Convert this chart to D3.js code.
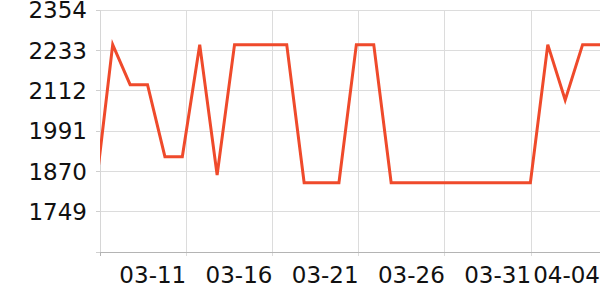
<!DOCTYPE html>
<html>
<head>
<meta charset="utf-8">
<script src="https://cdn.jsdelivr.net/npm/d3@7"></script>
<style>
  html, body { margin: 0; padding: 0; background: #fff; }
  svg { display: block; font-family: "DejaVu Sans", sans-serif; }
</style>
</head>
<body>
<svg id="chart" width="600" height="300"></svg>
<script>
// ---- data ----
const dates = ["03-06","03-07","03-08","03-09","03-10","03-11","03-12","03-13","03-14","03-15",
               "03-16","03-17","03-18","03-19","03-20","03-21","03-22","03-23","03-24","03-25",
               "03-26","03-27","03-28","03-29","03-30","03-31","04-01","04-02","04-03","04-04"];
const values = [1805, 2250, 2130, 2130, 1914, 1914, 2250, 1859, 2250, 2250,
                2250, 2250, 1836, 1836, 1836, 2250, 2250, 1836, 1836, 1836,
                1836, 1836, 1836, 1836, 1836, 1836, 2250, 2084, 2250, 2250];
const xTickLabels = ["03-11","03-16","03-21","03-26","03-31","04-04"];
const yTicks = [1628, 1749, 1870, 1991, 2112, 2233, 2354];
const yLabels = [1749, 1870, 1991, 2112, 2233, 2354];

// ---- layout ----
const W = 600, H = 300;
const m = { left: 100, right: 0, top: 10, bottom: 48 };
const iw = W - m.left - m.right, ih = H - m.top - m.bottom;

const svg = d3.select("#chart");
const g = svg.append("g").attr("transform", `translate(${m.left},${m.top})`);

const xAxisScale = d3.scalePoint().domain(dates).range([0, iw]);
// line samples drift slightly against the date grid
const xLine = d3.scaleLinear().domain([0, dates.length - 1]).range([-4.7, iw]);
const y = d3.scaleLinear().domain([1628, 2354]).range([ih, 0]);

// horizontal grid
g.append("g").selectAll("line").data(yTicks.slice(1)).join("line")
  .attr("x1", 0).attr("x2", iw)
  .attr("y1", d => y(d)).attr("y2", d => y(d))
  .attr("stroke", "#dcdcdc").attr("stroke-width", 1).attr("shape-rendering", "crispEdges");

// vertical grid
g.append("g").selectAll("line").data(xTickLabels).join("line")
  .attr("x1", d => xAxisScale(d)).attr("x2", d => xAxisScale(d))
  .attr("y1", 0).attr("y2", ih + 4)
  .attr("stroke", "#dcdcdc").attr("stroke-width", 1).attr("shape-rendering", "crispEdges");

// y axis line + ticks
g.append("line").attr("x1", 0).attr("x2", 0).attr("y1", 0).attr("y2", ih)
  .attr("stroke", "#d6d6d6").attr("shape-rendering", "crispEdges");
g.append("g").selectAll("line").data(yTicks).join("line")
  .attr("x1", -4).attr("x2", 0).attr("y1", d => y(d)).attr("y2", d => y(d))
  .attr("stroke", "#cfcfcf").attr("shape-rendering", "crispEdges");

// y labels
g.append("g").selectAll("text").data(yLabels).join("text")
  .attr("x", -13).attr("y", d => y(d)).attr("dy", "0.36em")
  .attr("text-anchor", "end").attr("font-size", 23).attr("fill", "#111")
  .text(d => d);

// x axis line
g.append("line").attr("x1", 0).attr("x2", iw).attr("y1", ih).attr("y2", ih)
  .attr("stroke", "#b4b4b4").attr("shape-rendering", "crispEdges");
g.append("line").attr("x1", 0).attr("x2", 0).attr("y1", ih).attr("y2", ih + 4)
  .attr("stroke", "#b4b4b4").attr("shape-rendering", "crispEdges");

// x labels
g.append("g").selectAll("text").data(xTickLabels).join("text")
  .attr("x", d => xAxisScale(d)).attr("y", ih + 30.5)
  .attr("text-anchor", "end").attr("font-size", 23).attr("fill", "#111")
  .text(d => d);

// clip + line
svg.append("defs").append("clipPath").attr("id", "clip")
  .append("rect").attr("x", 0).attr("y", -5).attr("width", iw).attr("height", ih + 5);

const line = d3.line().x((d, i) => xLine(i)).y(d => y(d));
g.append("path").datum(values)
  .attr("clip-path", "url(#clip)")
  .attr("d", line)
  .attr("fill", "none").attr("stroke", "#ef4a2b").attr("stroke-width", 3)
  .attr("stroke-linejoin", "miter");
</script>
</body>
</html>
